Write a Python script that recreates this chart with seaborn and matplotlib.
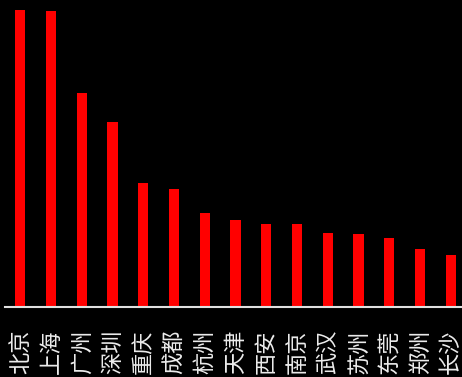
import matplotlib
matplotlib.use("Agg")
import matplotlib.pyplot as plt
import seaborn as sns
import pandas as pd

cities = ["北京", "上海", "广州", "深圳", "重庆", "成都", "杭州", "天津",
          "西安", "南京", "武汉", "苏州", "东莞", "郑州", "长沙"]
values = [297, 296, 214, 185, 124, 118, 94, 87, 83, 83, 74, 73, 69, 58, 52]

sns.set_style("dark")
plt.rcParams['font.family'] = ['Noto Sans CJK SC', 'DejaVu Sans']

df = pd.DataFrame({"city": cities, "value": values})

fig = plt.figure(figsize=(4.62, 3.77), dpi=100, facecolor="black")
ax = fig.add_axes([5/462, 70/377, 461/462, 307/377])
ax.set_facecolor("black")

sns.barplot(data=df, x="city", y="value", color="#ff0000", saturation=1,
            width=0.33, linewidth=0, edgecolor="none", ax=ax)

ax.set_xlim(-0.5, 14.5)
ax.set_ylim(0, 307)
ax.set_xlabel("")
ax.set_ylabel("")
ax.set_yticks([])
ax.grid(False)
for s in ["top", "right", "left"]:
    ax.spines[s].set_visible(False)
ax.spines["bottom"].set_color("#e0e0e0")
ax.spines["bottom"].set_linewidth(1.5)
ax.tick_params(axis="x", length=0, pad=16, colors="#ececec", labelsize=16,
               labelrotation=90)

fig.savefig("out.png", dpi=100, facecolor="black")
